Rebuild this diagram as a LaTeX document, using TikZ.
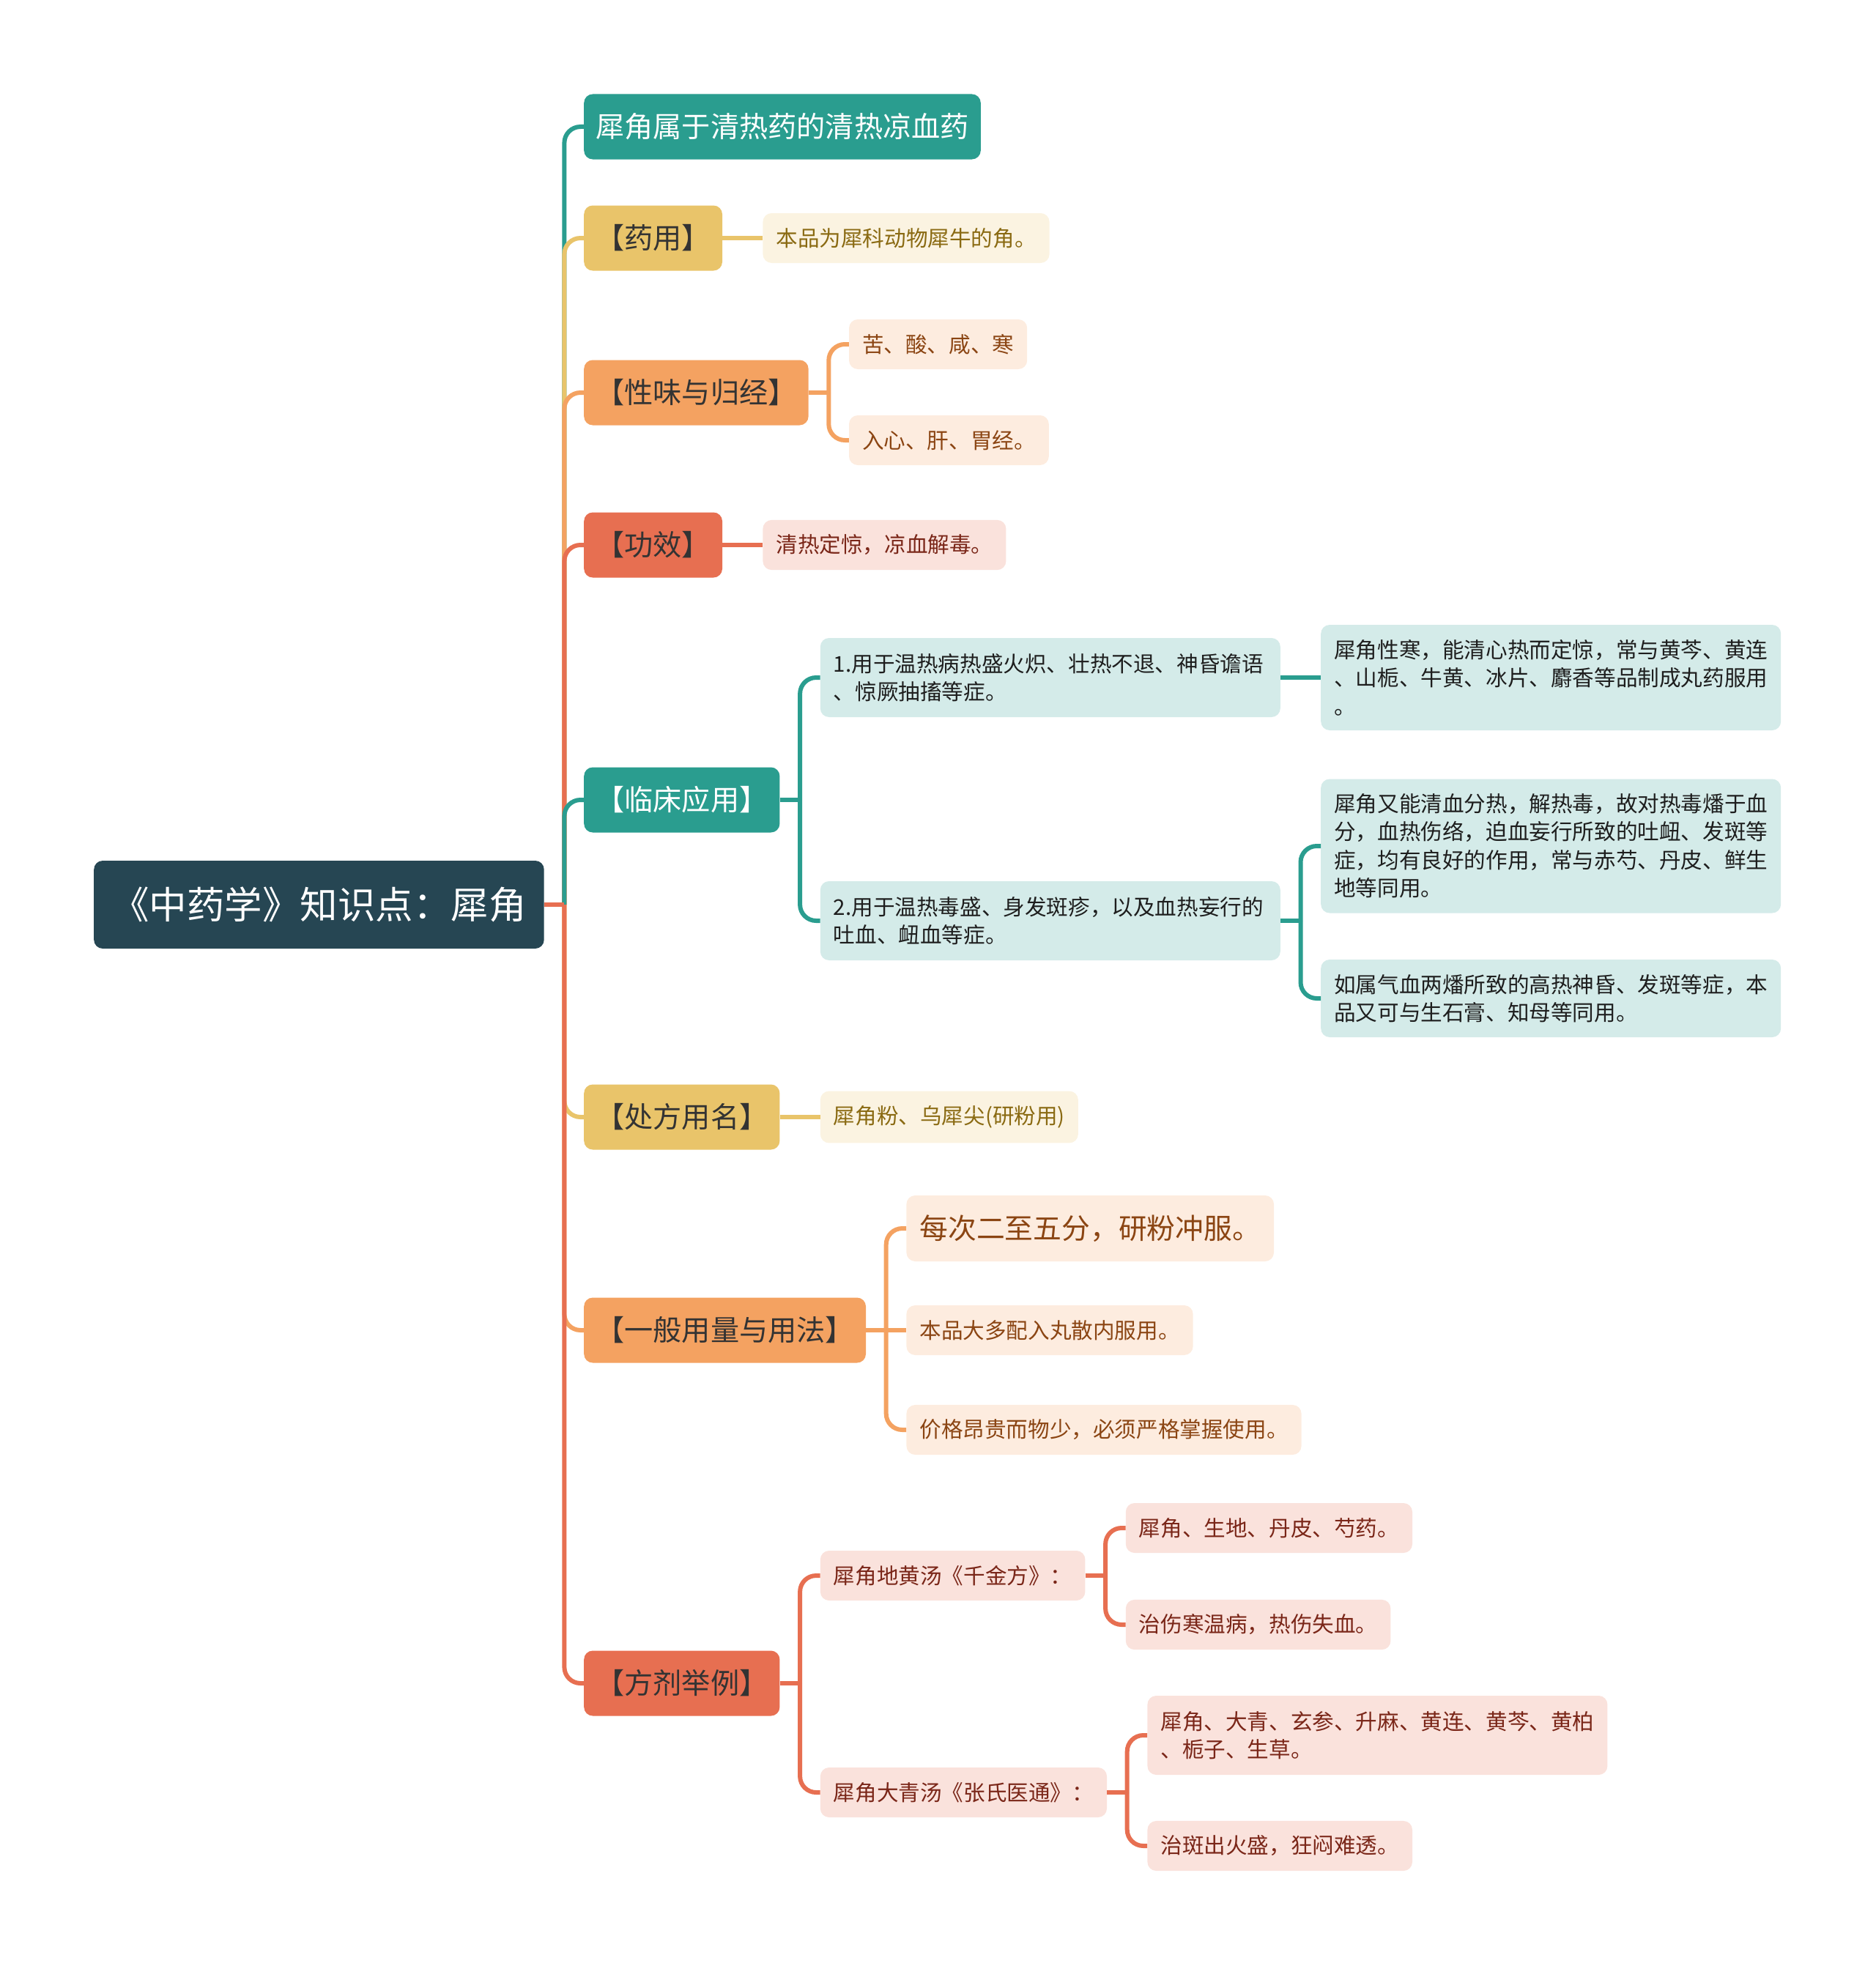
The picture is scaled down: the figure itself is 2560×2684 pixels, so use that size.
\documentclass[tikz,border=0pt]{standalone}
\usepackage{fontspec}
\setmainfont{Noto Sans CJK SC}
\usepackage{xcolor}
\usepackage{tikz}
\usetikzlibrary{positioning}

\definecolor{rootc}{HTML}{264653}
\definecolor{tealc}{HTML}{2A9D8F}
\definecolor{goldc}{HTML}{E9C46A}
\definecolor{orangec}{HTML}{F4A261}
\definecolor{redc}{HTML}{E76F51}
\definecolor{darkc}{HTML}{333333}
\definecolor{tealtext}{HTML}{1E1E1E}
\definecolor{goldtext}{HTML}{8A6A12}
\definecolor{orangetext}{HTML}{8B4513}
\definecolor{redtext}{HTML}{7A2618}

\begin{document}
\begin{tikzpicture}[x=1pt,y=-1pt,node distance=55pt,
  root node/.style={fill=rootc,text=white,rounded corners=12pt,minimum height=120pt,inner xsep=24pt,font=\fontsize{51.5}{60}\selectfont},
  topic/.style={rounded corners=12pt,minimum height=89pt,inner xsep=16pt,text=darkc,font=\fontsize{39.2}{47}\selectfont},
  leaf/.style={rounded corners=12pt,minimum height=68pt,inner xsep=18pt,inner ysep=20pt,align=left,font=\fontsize{29.6}{38.5}\selectfont},
  wide/.style={text width=592pt},
  tealleaf/.style={leaf,fill=tealc!20,text=tealtext},
  goldleaf/.style={leaf,fill=goldc!20,text=goldtext},
  orangeleaf/.style={leaf,fill=orangec!20,text=orangetext},
  redleaf/.style={leaf,fill=redc!20,text=redtext},
  link/.style={line width=6pt,rounded corners=22pt}]
  \useasboundingbox (0,0) rectangle (2560,2684);

  % root and main topics
  \node[root node,anchor=west] (root) at (128,1235) {《中药学》知识点：犀角};
  \node[topic,fill=tealc,text=white,anchor=west] (kind) at (797,173) {犀角属于清热药的清热凉血药};
  \node[topic,fill=goldc,anchor=west] (src) at (797,325) {【药用】};
  \node[topic,fill=orangec,anchor=west] (taste) at (797,536) {【性味与归经】};
  \node[topic,fill=redc,anchor=west] (effect) at (797,744) {【功效】};
  \node[topic,fill=tealc,text=white,anchor=west] (clinic) at (797,1092) {【临床应用】};
  \node[topic,fill=goldc,anchor=west] (rxname) at (797,1525) {【处方用名】};
  \node[topic,fill=orangec,anchor=west] (dose) at (797,1816) {【一般用量与用法】};
  \node[topic,fill=redc,anchor=west] (recipe) at (797,2298) {【方剂举例】};

  % leaves
  \node[goldleaf,right=of src] (src1) {本品为犀科动物犀牛的角。};
  \node[orangeleaf,right=of taste,yshift=66pt] (taste1) {苦、酸、咸、寒};
  \node[orangeleaf,right=of taste,yshift=-65pt] (taste2) {入心、肝、胃经。};
  \node[redleaf,right=of effect] (effect1) {清热定惊，凉血解毒。};
  \node[tealleaf,wide,minimum height=108pt,right=of clinic,yshift=167pt] (clinic1) {1.用于温热病热盛火炽、壮热不退、神昏谵语\\、惊厥抽搐等症。};
  \node[tealleaf,wide,minimum height=108pt,right=of clinic,yshift=-165pt] (clinic2) {2.用于温热毒盛、身发斑疹，以及血热妄行的\\吐血、衄血等症。};
  \node[tealleaf,wide,minimum height=144pt,right=of clinic1] (clinic1a) {犀角性寒，能清心热而定惊，常与黄芩、黄连\\、山栀、牛黄、冰片、麝香等品制成丸药服用\\。};
  \node[tealleaf,wide,minimum height=183pt,right=of clinic2,yshift=102pt] (clinic2a) {犀角又能清血分热，解热毒，故对热毒燔于血\\分，血热伤络，迫血妄行所致的吐衄、发斑等\\症，均有良好的作用，常与赤芍、丹皮、鲜生\\地等同用。};
  \node[tealleaf,wide,minimum height=104pt,right=of clinic2,yshift=-106pt] (clinic2b) {如属气血两燔所致的高热神昏、发斑等症，本\\品又可与生石膏、知母等同用。};
  \node[goldleaf,right=of rxname] (rxname1) {犀角粉、乌犀尖(研粉用)};
  \node[orangeleaf,minimum height=90pt,font=\fontsize{38.8}{46}\selectfont,right=of dose,yshift=139pt] (dose1) {每次二至五分，研粉冲服。};
  \node[orangeleaf,right=of dose] (dose2) {本品大多配入丸散内服用。};
  \node[orangeleaf,right=of dose,yshift=-136pt] (dose3) {价格昂贵而物少，必须严格掌握使用。};
  \node[redleaf,right=of recipe,yshift=147pt] (recipe1) {犀角地黄汤《千金方》：};
  \node[redleaf,right=of recipe,yshift=-149pt] (recipe2) {犀角大青汤《张氏医通》：};
  \node[redleaf,right=of recipe1,yshift=65pt] (recipe1a) {犀角、生地、丹皮、芍药。};
  \node[redleaf,right=of recipe1,yshift=-67pt] (recipe1b) {治伤寒温病，热伤失血。};
  \node[redleaf,wide,minimum height=108pt,right=of recipe2,yshift=78pt] (recipe2a) {犀角、大青、玄参、升麻、黄连、黄芩、黄柏\\、栀子、生草。};
  \node[redleaf,right=of recipe2,yshift=-73pt] (recipe2b) {治斑出火盛，狂闷难透。};

  % connectors from the root
  \coordinate (rj) at ([xshift=27.5pt]root.east);
  \draw[link,tealc] (rj) |- (kind.west);
  \draw[link,goldc] (rj) |- (src.west);
  \draw[link,orangec] (rj) |- (taste.west);
  \draw[link,redc] (rj) |- (effect.west);
  \draw[link,tealc] (rj) |- (clinic.west);
  \draw[link,goldc] (rj) |- (rxname.west);
  \draw[link,orangec] (rj) |- (dose.west);
  \draw[link,redc] (rj) |- (recipe.west);
  \draw[link,redc] (root.east) -- (rj);

  % connectors to the leaves
  \draw[link,goldc] (src.east) -- (src1.west);
  \draw[link,orangec] (taste.east) -- ++(27.5,0) coordinate (tj);
  \draw[link,orangec] (tj) |- (taste1.west);
  \draw[link,orangec] (tj) |- (taste2.west);
  \draw[link,redc] (effect.east) -- (effect1.west);
  \draw[link,tealc] (clinic.east) -- ++(27.5,0) coordinate (cj);
  \draw[link,tealc] (cj) |- (clinic1.west);
  \draw[link,tealc] (cj) |- (clinic2.west);
  \draw[link,tealc] (clinic1.east) -- (clinic1a.west);
  \draw[link,tealc] (clinic2.east) -- ++(27.5,0) coordinate (c2j);
  \draw[link,tealc] (c2j) |- (clinic2a.west);
  \draw[link,tealc] (c2j) |- (clinic2b.west);
  \draw[link,goldc] (rxname.east) -- (rxname1.west);
  \draw[link,orangec] (dose.east) -- ++(27.5,0) coordinate (dj);
  \draw[link,orangec] (dj) |- (dose1.west);
  \draw[link,orangec] (dose.east) -- (dose2.west);
  \draw[link,orangec] (dj) |- (dose3.west);
  \draw[link,redc] (recipe.east) -- ++(27.5,0) coordinate (fj);
  \draw[link,redc] (fj) |- (recipe1.west);
  \draw[link,redc] (fj) |- (recipe2.west);
  \draw[link,redc] (recipe1.east) -- ++(27.5,0) coordinate (f1j);
  \draw[link,redc] (f1j) |- (recipe1a.west);
  \draw[link,redc] (f1j) |- (recipe1b.west);
  \draw[link,redc] (recipe2.east) -- ++(27.5,0) coordinate (f2j);
  \draw[link,redc] (f2j) |- (recipe2a.west);
  \draw[link,redc] (f2j) |- (recipe2b.west);
\end{tikzpicture}
\end{document}
